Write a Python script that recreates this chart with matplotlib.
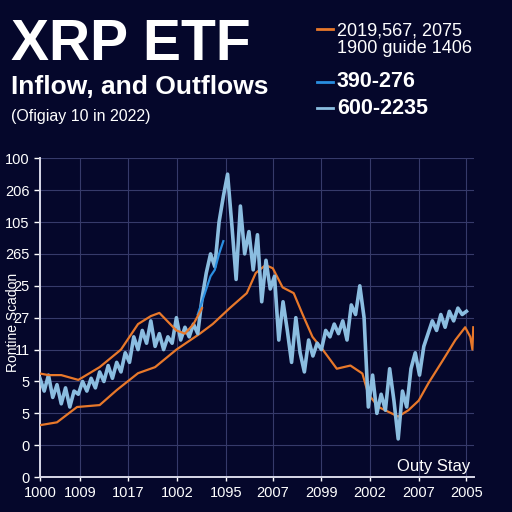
import numpy as np
import matplotlib.pyplot as plt
from matplotlib.lines import Line2D

plt.rcParams['font.family'] = ['Liberation Sans', 'DejaVu Sans']

# ---- data ----
x_labels = ['1000', '1009', '1017', '1002', '1095', '2007', '2099', '2002', '2007', '2005']
x_ticks = [0, 9.4, 20.6, 32.1, 43.6, 54.6, 66.0, 77.3, 88.8, 100]
y_labels = ['0', '0', '5', '5', '11', '27', '25', '265', '105', '206', '100']

# light blue series, one value per step 0..100
light_t = np.arange(101)
light_v = [3.1, 2.7, 3.2, 2.5, 2.9, 2.3, 2.8, 2.2, 2.7, 2.6,
           3.0, 2.7, 3.1, 2.8, 3.3, 3.0, 3.5, 3.1, 3.6, 3.3,
           3.9, 3.6, 4.4, 4.0, 4.6, 4.2, 4.9, 4.1, 4.5, 4.0,
           4.4, 4.2, 5.0, 4.3, 4.7, 4.4, 4.8, 4.5, 5.6, 6.4,
           7.0, 6.6, 8.0, 8.8, 9.5, 7.9, 6.2, 8.5, 7.0, 7.7,
           6.5, 7.6, 5.5, 6.8, 5.9, 6.3, 4.3, 5.5, 4.6, 3.6,
           5.0, 3.9, 3.3, 4.3, 3.8, 4.2, 4.0, 4.6, 4.4, 4.8,
           4.5, 4.9, 4.3, 5.4, 5.1, 6.0, 5.0, 2.2, 3.2, 2.0,
           2.6, 2.1, 3.4, 2.4, 1.2, 2.7, 2.2, 3.4, 3.9, 3.2,
           4.1, 4.5, 4.9, 4.6, 5.1, 4.7, 5.2, 4.9, 5.3, 5.1, 5.2]

# darker blue short segment
blue_t = [37, 38, 39, 40, 41, 42, 43]
blue_v = [5.1, 5.5, 5.9, 6.3, 6.5, 7.0, 7.4]

# upper orange (early part only)
orange_up_t = [0, 2, 5, 9, 14, 19, 23, 26, 28, 32, 34, 36, 38]
orange_up_v = [3.25, 3.2, 3.2, 3.05, 3.45, 4.0, 4.8, 5.05, 5.15, 4.6, 4.5, 4.8, 5.3]

# main orange line
orange_t = [0, 4, 8.7, 14, 18, 23, 27, 32, 37.5, 40.5, 44.5, 48.5, 50.6, 52.9,
            54.6, 56.9, 59.5, 61.6, 63.9, 66.3, 69.6, 72.8, 75.6, 77, 79.4,
            81.7, 84, 86.4, 88.8, 91.1, 94.4, 97.4, 99.7, 100.9, 101.4, 101.6]
orange_v = [1.63, 1.72, 2.2, 2.26, 2.73, 3.26, 3.45, 4.0, 4.5, 4.8, 5.3, 5.77, 6.4, 6.65,
            6.55, 5.95, 5.77, 5.1, 4.4, 4.0, 3.4, 3.5, 3.25, 2.6, 2.2,
            2.05, 1.9, 2.1, 2.4, 2.95, 3.65, 4.3, 4.7, 4.4, 4.0, 4.7]

bg = '#05072b'
c_orange = '#e8782a'
c_blue = '#2a8ee0'
c_light = '#8bbde0'
c_grid = '#363a6a'

fig = plt.figure(figsize=(5.12, 5.12), dpi=100, facecolor=bg)
ax = fig.add_axes([0.078, 0.068, 0.848, 0.623], facecolor=bg)

ax.plot(orange_t, orange_v, color=c_orange, lw=1.6, zorder=3)
ax.plot(light_t, light_v, color=c_light, lw=2.6, zorder=4)
ax.plot(blue_t, blue_v, color=c_blue, lw=1.6, zorder=5)
ax.plot(orange_up_t, orange_up_v, color=c_orange, lw=1.6, zorder=5)

ax.set_xlim(0, 101.8)
ax.set_ylim(0, 10)
ax.set_xticks(x_ticks)
ax.set_xticklabels(x_labels)
ax.set_yticks(range(11))
ax.set_yticklabels(y_labels)
ax.tick_params(colors='white', labelsize=10.5, length=4, width=1)
ax.tick_params(axis='x', length=3)
ax.grid(True, color=c_grid, lw=0.8)
for s in ['top', 'right']:
    ax.spines[s].set_visible(False)
for s in ['left', 'bottom']:
    ax.spines[s].set_color('#d8d8e8')
    ax.spines[s].set_linewidth(1.4)
ax.text(0.99, 0.035, 'Outy Stay', color='white', fontsize=12,
        ha='right', va='center', transform=ax.transAxes)

# y label sits over the tick labels, as in the reference
fig.text(0.026, 0.371, 'Rontine Scadon', color='white', fontsize=10,
         rotation=90, ha='center', va='center')

# titles
fig.text(0.022, 0.912, 'XRP ETF', color='white', fontsize=41, fontweight='bold',
         va='center', ha='left')
fig.text(0.022, 0.830, 'Inflow, and Outflows', color='white', fontsize=19,
         fontweight='bold', va='center', ha='left')
fig.text(0.022, 0.772, '(Ofigiay 10 in 2022)', color='white', fontsize=11.5,
         va='center', ha='left')

# legend by hand
leg = [(c_orange, 0.943, '2019,567, 2075\n1900 guide 1406', 'normal', 13),
       (c_blue, 0.840, '390-276', 'bold', 15.5),
       (c_light, 0.789, '600-2235', 'bold', 15.5)]
for col, yy, txt, wt, fs in leg:
    fig.add_artist(Line2D([0.619, 0.651], [yy, yy], color=col, lw=2,
                          transform=fig.transFigure))
    if '\n' in txt:
        fig.text(0.658, yy + 0.014, txt, color='white', fontsize=fs, fontweight=wt,
                 va='top', ha='left', linespacing=1.05)
    else:
        fig.text(0.658, yy, txt, color='white', fontsize=fs, fontweight=wt,
                 va='center', ha='left')

fig.savefig('out.png', dpi=100, facecolor=bg)
